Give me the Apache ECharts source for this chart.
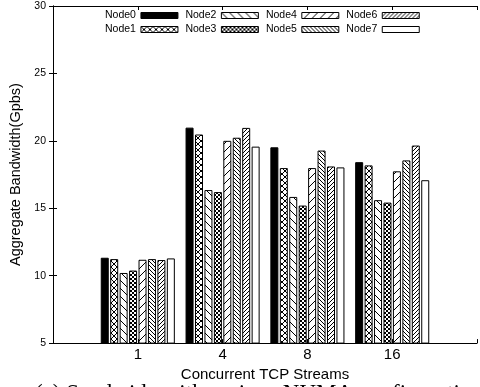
<!DOCTYPE html>
<html>
<head>
<meta charset="utf-8">
<script src="https://cdn.jsdelivr.net/npm/echarts@6/dist/echarts.min.js"></script>
<style>
html,body{margin:0;padding:0;background:#fff;}
#chart{width:480px;height:387px;}
</style>
</head>
<body>
<div id="chart"></div>
<script>
// ---- data ----
var categories = ['1', '4', '8', '16'];
var seriesNames = ['Node0','Node1','Node2','Node3','Node4','Node5','Node6','Node7'];
var node0 = [11.33, 20.98, 19.52, 18.42];
var node1 = [11.23, 20.47, 17.98, 18.18];
var node2 = [10.20, 16.35, 15.84, 15.60];
var node3 = [10.38, 16.20, 15.20, 15.42];
var node4 = [11.18, 20.00, 17.98, 17.74];
var node5 = [11.23, 20.23, 19.28, 18.55];
var node6 = [11.16, 20.96, 18.10, 19.65];
var node7 = [11.28, 19.57, 18.03, 17.08];
var yTicks = [5, 10, 15, 20, 25, 30];
var values = [node0, node1, node2, node3, node4, node5, node6, node7];

// ---- patterns ----
function mk(size, draw) {
  var c = document.createElement('canvas');
  c.width = size; c.height = size;
  var g = c.getContext('2d');
  g.fillStyle = '#fff'; g.fillRect(0, 0, size, size);
  g.strokeStyle = '#000'; g.fillStyle = '#000'; g.lineWidth = 1;
  draw(g, size);
  return c;
}
function slash(g, s) { g.beginPath(); [-s, 0, s].forEach(function (k) { g.moveTo(k, s); g.lineTo(k + s, 0); }); g.stroke(); }
function bslash(g, s) { g.beginPath(); [-s, 0, s].forEach(function (k) { g.moveTo(k, 0); g.lineTo(k + s, s); }); g.stroke(); }
function pat(c) { return { image: c, repeat: 'repeat' }; }
var fills = [
  '#000',
  pat(mk(6, function (g, s) { slash(g, s); bslash(g, s); })),
  pat(mk(8, bslash)),
  pat(mk(4, function (g) { g.fillRect(0, 0, 2, 2); g.fillRect(2, 2, 2, 2); })),
  pat(mk(8, slash)),
  pat(mk(4, bslash)),
  pat(mk(4, slash)),
  '#fff'
];

var series = seriesNames.map(function (n, i) {
  return {
    name: n,
    type: 'bar',
    barWidth: 8,
    barGap: '18%',
    itemStyle: { color: fills[i], borderColor: '#000', borderWidth: 1 },
    data: values[i].map(function (v, j) { return [j + 1, v]; })
  };
});

var font = 'Liberation Sans, Arial, sans-serif';
var legendCommon = {
  orient: 'horizontal', align: 'right', icon: 'rect',
  itemWidth: 37, itemHeight: 6, itemGap: 7, padding: 0,
  textStyle: { fontFamily: font, fontSize: 10.5, color: '#000' },
  itemStyle: { borderColor: '#000', borderWidth: 1 }
};

var chart = echarts.init(document.getElementById('chart'), null, { renderer: 'canvas' });
chart.setOption({
  animation: false,
  backgroundColor: '#fff',
  grid: { left: 53, right: 1, top: 6, bottom: 39.5, containLabel: false },
  legend: [
    Object.assign({}, legendCommon, { data: ['Node0', 'Node2', 'Node4', 'Node6'], left: 105, top: 10 }),
    Object.assign({}, legendCommon, { data: ['Node1', 'Node3', 'Node5', 'Node7'], left: 105, top: 24 })
  ],
  xAxis: [
    {
      type: 'value', min: 0, max: 5, interval: 1, position: 'bottom',
      axisLine: { lineStyle: { color: '#000', width: 1 } },
      axisTick: { inside: true, length: 4, lineStyle: { color: '#000' } },
      splitLine: { show: false },
      axisLabel: {
        margin: 4, fontFamily: font, fontSize: 15, color: '#000',
        formatter: function (v) { return (v >= 1 && v <= categories.length) ? categories[v - 1] : ''; }
      },
      name: 'Concurrent TCP Streams', nameLocation: 'middle', nameGap: 20,
      nameTextStyle: { fontFamily: font, fontSize: 15, color: '#000' }
    },
    {
      type: 'value', min: 0, max: 5, interval: 1, position: 'top',
      axisLine: { lineStyle: { color: '#000', width: 1 } },
      axisTick: { inside: true, length: 4, lineStyle: { color: '#000' } },
      splitLine: { show: false }, axisLabel: { show: false }
    }
  ],
  yAxis: [
    {
      type: 'value', min: 5, max: 30, interval: 5, position: 'left',
      axisLine: { show: true, lineStyle: { color: '#000', width: 1 } },
      axisTick: { show: true, inside: true, length: 4, lineStyle: { color: '#000' } },
      splitLine: { show: false },
      axisLabel: { fontFamily: font, fontSize: 10.5, color: '#000', margin: 7 },
      name: 'Aggregate Bandwidth(Gpbs)', nameLocation: 'middle', nameGap: 28,
      nameTextStyle: { fontFamily: font, fontSize: 14.5, color: '#000' }
    },
    {
      type: 'value', min: 5, max: 30, interval: 5, position: 'right',
      axisLine: { show: true, lineStyle: { color: '#000', width: 1 } },
      axisTick: { show: true, inside: true, length: 4, lineStyle: { color: '#000' } },
      splitLine: { show: false }, axisLabel: { show: false }
    }
  ],
  graphic: [{
    type: 'text', left: 35, top: 382,
    style: { text: '(a) Send-side with various NUMA configurations', fontFamily: 'Liberation Serif, Times New Roman, serif', fontSize: 23, fill: '#000' }
  }],
  series: series
});
</script>
</body>
</html>
